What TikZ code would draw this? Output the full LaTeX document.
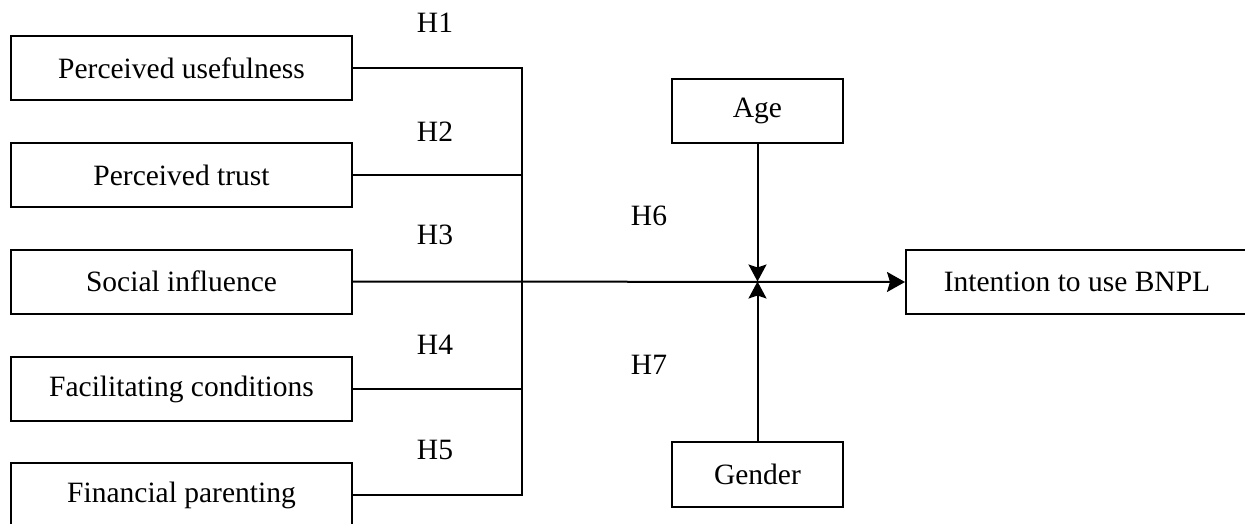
\documentclass[tikz,border=0pt]{standalone}
\usepackage{fontspec}
\setmainfont{Liberation Serif}
\usetikzlibrary{arrows.meta}
\tikzset{
  box/.style={draw=black, line width=2pt, rectangle, inner sep=0pt, minimum height=64pt, font=\fontsize{29.5}{34}\selectfont},
  lbl/.style={inner sep=0pt, font=\fontsize{29.5}{34}\selectfont},
  conn/.style={draw=black, line width=2pt},
  tip/.style={-{Stealth[length=18pt,width=20pt,inset=3pt]}},
  modtip/.style={-{Stealth[length=17pt,width=18pt,inset=3pt]}}
}
\begin{document}
\begin{tikzpicture}[x=1pt,y=-1pt]
\useasboundingbox (0,0) rectangle (1245,524);
\clip (0,0) rectangle (1245,524);
\fill[white] (0,0) rectangle (1245,524);
% left boxes
\node[box, minimum width=341pt] (pu) at (181.5,68.5) {Perceived usefulness};
\node[box, minimum width=341pt] (pt) at (181.5,175) {Perceived trust};
\node[box, minimum width=341pt] (si) at (181.5,281.5) {Social influence};
\node[box, minimum width=341pt] (fc) at (181.5,389) {Facilitating conditions};
\node[box, minimum width=341pt] (fp) at (181.5,495) {Financial parenting};
% moderators and outcome
\node[box, minimum width=171pt] (age) at (757.5,111) {Age};
\node[box, minimum width=171pt, minimum height=65pt] (gen) at (757.5,474.5) {Gender};
\node[box, minimum width=344pt] (int) at (1078,282) {\hspace*{-2pt}Intention to use BNPL};
% hypothesis labels
\node[lbl] (h1) at (435,23) {H1};
\node[lbl] (h2) at (435,132) {H2};
\node[lbl] (h3) at (435,235) {H3};
\node[lbl] (h4) at (435,345) {H4};
\node[lbl] (h5) at (435,450) {H5};
\node[lbl] (h6) at (649,216) {H6};
\node[lbl] (h7) at (649,365) {H7};
% bus coordinates
\coordinate (b1) at (522,68.5);
\coordinate (b2) at (522,175);
\coordinate (b4) at (522,389);
\coordinate (b5) at (522,495);
\coordinate (m) at (757.5,281.5);
% connectors
\draw[conn] (pu.east) -- (b1);
\draw[conn] (pt.east) -- (b2);
\draw[conn] (fc.east) -- (b4);
\draw[conn] (fp.east) -- (b5);
\draw[conn, line cap=rect] (b1) -- (b5);
\draw[conn, tip] (si.east) -- (int.west);
\draw[conn, modtip] (age.south) -- (m);
\draw[conn, modtip] (gen.north) -- (m);
\end{tikzpicture}
\end{document}
